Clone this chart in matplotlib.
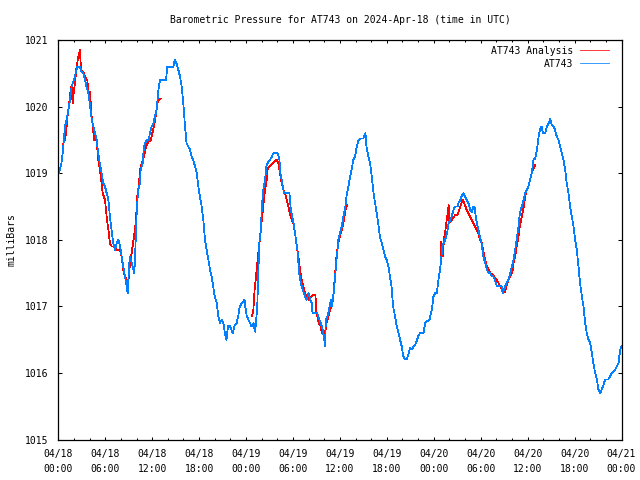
import numpy as np
import matplotlib
matplotlib.use("Agg")
import matplotlib.pyplot as plt

# ---------------- data (hours since 2024-04-18 00:00 UTC, millibars) ----------------
obs_hours = [0.1, 0.4, 0.6, 0.85, 1.07, 1.28, 1.5, 1.7, 2.0, 2.26, 2.43, 2.77, 2.98, 3.2, 3.41, 3.6, 3.84,
             4.13, 4.26, 4.48, 4.7, 4.9, 5.1, 5.3, 5.54, 5.75, 5.97, 6.18, 6.4, 6.6, 6.8, 7.03, 7.25, 7.46,
             7.67, 7.9, 8.1, 8.3, 8.53, 8.74, 8.87, 9.04, 9.17, 9.4, 9.6, 9.72, 9.85, 10.0, 10.2, 10.45,
             10.53, 10.78, 10.95, 11.3, 11.6, 11.7, 11.94, 12.15, 12.36, 12.57, 12.8, 13.0, 13.77, 13.94,
             14.7, 14.9, 15.1, 15.35, 15.56, 15.77, 15.98, 16.2, 16.4, 16.62, 16.84, 17.05, 17.26, 17.48,
             17.7, 17.9, 18.1, 18.33, 18.54, 18.75, 18.97, 19.18, 19.4, 19.6, 19.8, 20.0, 20.25, 20.46,
             20.67, 20.9, 21.1, 21.3, 21.5, 21.7, 21.96, 22.3, 22.5, 22.8, 23.0, 23.2, 23.5, 23.8, 23.9,
             24.1, 24.3, 24.5, 24.7, 24.95, 25.15, 25.28, 25.45, 25.58, 25.7, 25.9, 26.0, 26.2, 26.43,
             26.6, 26.86, 27.07, 27.3, 27.5, 28.05, 28.27, 28.4, 28.7, 28.85, 29.55, 29.72, 30.0, 30.27,
             30.4, 30.57, 30.7, 30.8, 31.0, 31.25, 31.55, 31.76, 31.98, 32.2, 32.4, 32.5, 33.1, 33.38,
             33.55, 33.8, 34.0, 34.1, 34.2, 34.4, 34.7, 34.83, 34.96, 35.2, 35.4, 35.52, 35.7, 35.8,
             36.0, 36.24, 36.45, 36.7, 36.9, 37.1, 37.3, 37.5, 37.7, 37.94, 38.15, 38.4, 38.58, 39.0,
             39.13, 39.26, 39.4, 39.65, 39.86, 40.07, 40.3, 40.5, 40.7, 40.9, 41.1, 41.35, 41.56, 41.78,
             41.99, 42.2, 42.4, 42.6, 42.8, 43.05, 43.27, 43.48, 43.7, 43.9, 44.1, 44.33, 44.55, 44.8,
             44.97, 45.2, 45.4, 45.6, 45.8, 46.0, 46.25, 46.7, 46.9, 47.1, 47.45, 47.75, 47.96, 48.17,
             48.4, 48.6, 48.8, 48.94, 49.1, 49.27, 49.45, 49.7, 49.9, 50.1, 50.3, 50.52, 50.73, 51.03,
             51.16, 51.4, 51.6, 51.8, 52.0, 52.2, 52.43, 52.65, 52.86, 53.07, 53.2, 53.28, 53.5, 53.7,
             53.9, 54.1, 54.35, 54.57, 54.8, 55.0, 55.2, 55.4, 55.6, 55.8, 56.05, 56.5, 56.7, 56.8, 57.0,
             57.12, 57.3, 57.55, 57.76, 57.98, 58.2, 58.4, 58.6, 58.83, 59.0, 59.26, 59.5, 59.68, 59.9,
             60.1, 60.3, 60.53, 60.75, 60.96, 61.2, 61.4, 61.6, 61.82, 61.94, 62.24, 62.45, 62.67, 62.88,
             63.1, 63.3, 63.5, 63.73, 63.94, 64.15, 64.37, 64.58, 64.8, 65.0, 65.22, 65.43, 65.65, 65.86,
             66.07, 66.28, 66.5, 66.7, 66.93, 67.14, 67.35, 67.56, 67.78, 68.0, 68.2, 68.4, 68.63, 68.85,
             69.05, 69.27, 69.48, 69.7, 69.9, 70.3, 70.55, 70.76, 70.98, 71.2, 71.41, 71.62, 71.83, 72.0]
obs_mb = [1019.0, 1019.15, 1019.35, 1019.7, 1019.8, 1019.95, 1020.1, 1020.3, 1020.4, 1020.52, 1020.6,
          1020.6, 1020.52, 1020.5, 1020.4, 1020.3, 1020.2, 1019.95, 1019.82, 1019.7, 1019.6, 1019.5,
          1019.3, 1019.15, 1019.0, 1018.85, 1018.8, 1018.7, 1018.6, 1018.35, 1018.15, 1017.95, 1017.85,
          1017.95, 1018.0, 1017.9, 1017.75, 1017.6, 1017.45, 1017.3, 1017.2, 1017.6, 1017.75, 1017.65,
          1017.55, 1017.5, 1017.85, 1018.35, 1018.75, 1018.85, 1019.05, 1019.15, 1019.4, 1019.5, 1019.5,
          1019.6, 1019.7, 1019.75, 1019.85, 1019.95, 1020.25, 1020.4, 1020.4, 1020.6, 1020.6, 1020.7,
          1020.65, 1020.55, 1020.45, 1020.3, 1020.05, 1019.7, 1019.45, 1019.4, 1019.35, 1019.25, 1019.2,
          1019.1, 1019.0, 1018.8, 1018.65, 1018.5, 1018.3, 1018.0, 1017.85, 1017.7, 1017.55, 1017.45,
          1017.3, 1017.15, 1017.05, 1016.85, 1016.75, 1016.8, 1016.75, 1016.6, 1016.5, 1016.7, 1016.7,
          1016.6, 1016.7, 1016.75, 1016.85, 1017.0, 1017.05, 1017.1, 1017.0, 1016.85, 1016.8, 1016.75,
          1016.7, 1016.75, 1016.62, 1016.75, 1017.05, 1017.55, 1017.95, 1018.15, 1018.45, 1018.75,
          1018.9, 1019.1, 1019.18, 1019.2, 1019.25, 1019.3, 1019.3, 1019.2, 1019.0, 1018.8, 1018.7,
          1018.7, 1018.45, 1018.3, 1018.1, 1017.97, 1017.85, 1017.65, 1017.5, 1017.35, 1017.25, 1017.15,
          1017.1, 1017.2, 1017.1, 1017.05, 1016.9, 1016.9, 1016.8, 1016.75, 1016.65, 1016.5, 1016.4,
          1016.8, 1016.85, 1017.0, 1017.1, 1017.0, 1017.2, 1017.45, 1017.65, 1017.85, 1018.0, 1018.1,
          1018.2, 1018.35, 1018.5, 1018.7, 1018.8, 1018.95, 1019.05, 1019.2, 1019.25, 1019.4, 1019.5,
          1019.52, 1019.52, 1019.57, 1019.6, 1019.4, 1019.25, 1019.15, 1018.95, 1018.7, 1018.55, 1018.4,
          1018.25, 1018.05, 1017.95, 1017.85, 1017.75, 1017.7, 1017.6, 1017.45, 1017.3, 1017.0, 1016.85,
          1016.7, 1016.6, 1016.5, 1016.4, 1016.25, 1016.2, 1016.2, 1016.3, 1016.37, 1016.35, 1016.4,
          1016.42, 1016.47, 1016.55, 1016.6, 1016.6, 1016.75, 1016.77, 1016.8, 1016.95, 1017.15, 1017.2,
          1017.2, 1017.4, 1017.55, 1017.7, 1017.9, 1017.95, 1018.0, 1018.1, 1018.25, 1018.3, 1018.35,
          1018.45, 1018.5, 1018.5, 1018.55, 1018.6, 1018.67, 1018.7, 1018.65, 1018.6, 1018.55, 1018.45,
          1018.42, 1018.5, 1018.5, 1018.42, 1018.25, 1018.15, 1018.05, 1017.95, 1017.75, 1017.65,
          1017.55, 1017.5, 1017.5, 1017.45, 1017.45, 1017.4, 1017.31, 1017.31, 1017.3, 1017.2, 1017.25,
          1017.3, 1017.35, 1017.4, 1017.5, 1017.6, 1017.7, 1017.85, 1018.0, 1018.2, 1018.4, 1018.5,
          1018.6, 1018.7, 1018.75, 1018.8, 1018.9, 1019.0, 1019.2, 1019.22, 1019.35, 1019.55, 1019.67,
          1019.7, 1019.6, 1019.6, 1019.7, 1019.75, 1019.81, 1019.72, 1019.7, 1019.65, 1019.55, 1019.5,
          1019.4, 1019.3, 1019.2, 1019.05, 1018.85, 1018.7, 1018.5, 1018.35, 1018.2, 1018.0, 1017.85,
          1017.6, 1017.35, 1017.15, 1017.0, 1016.75, 1016.6, 1016.5, 1016.45, 1016.3, 1016.15, 1016.0,
          1015.9, 1015.75, 1015.7, 1015.75, 1015.82, 1015.9, 1015.9, 1015.95, 1016.0, 1016.02, 1016.05,
          1016.1, 1016.15, 1016.35, 1016.4]

ana1_hours = [0.55, 0.85, 0.98, 1.15, 1.41, 1.58, 1.7, 1.83, 2.0, 2.13, 2.34, 2.56, 2.77, 2.9, 3.2,
              3.54, 3.71, 3.88, 4.05, 4.26, 4.39, 4.56, 4.9, 5.1, 5.33, 5.54, 5.67, 5.97, 6.18, 6.4,
              6.6, 6.82, 7.25, 7.46, 7.9, 8.1, 8.3, 8.53, 8.74, 8.95, 9.08, 9.25, 9.5, 9.68, 9.9, 10.1,
              10.32, 10.44, 10.66, 10.95, 11.2, 11.51, 11.85, 12.02, 12.23, 12.45, 12.57, 12.7, 13.08]
ana1_mb = [1019.42, 1019.5, 1019.6, 1019.82, 1020.07, 1020.25, 1020.32, 1020.05, 1020.25, 1020.35,
           1020.6, 1020.75, 1020.85, 1020.55, 1020.52, 1020.42, 1020.4, 1020.15, 1020.22, 1019.85,
           1019.75, 1019.5, 1019.5, 1019.2, 1019.05, 1018.85, 1018.7, 1018.6, 1018.35, 1018.15,
           1017.95, 1017.9, 1017.9, 1017.85, 1017.85, 1017.75, 1017.55, 1017.45, 1017.4, 1017.35,
           1017.55, 1017.7, 1017.9, 1018.05, 1018.25, 1018.65, 1018.85, 1019.05, 1019.15, 1019.25,
           1019.4, 1019.47, 1019.5, 1019.6, 1019.7, 1019.85, 1019.95, 1020.07, 1020.12]

ana2_hours = [24.77, 24.94, 25.1, 25.28, 25.45, 25.62, 25.8, 26.01, 26.2, 26.43, 26.65, 26.77, 27.9,
              28.14, 28.35, 28.56, 28.77, 28.99, 29.2, 29.41, 29.6, 29.84, 30.05, 30.27, 30.48, 30.69,
              30.9, 31.12, 31.3, 31.55, 31.76, 31.98, 32.2, 32.5, 32.87, 33.0, 33.12, 33.3, 33.55, 33.7,
              33.98, 34.1, 34.3, 34.53, 34.74, 34.96, 35.1, 35.26, 35.43, 35.6, 35.8, 36.0, 36.24, 36.45,
              36.66, 36.8, 36.96]
ana2_mb = [1016.85, 1016.95, 1017.25, 1017.45, 1017.65, 1017.85, 1018.05, 1018.3, 1018.5, 1018.75,
           1018.9, 1019.07, 1019.2, 1019.15, 1019.0, 1018.85, 1018.75, 1018.7, 1018.6, 1018.5, 1018.4,
           1018.3, 1018.25, 1018.1, 1017.9, 1017.75, 1017.55, 1017.4, 1017.3, 1017.2, 1017.15, 1017.1,
           1017.12, 1017.17, 1017.17, 1016.9, 1016.85, 1016.75, 1016.7, 1016.6, 1016.57, 1016.6,
           1016.75, 1016.85, 1016.95, 1017.0, 1017.1, 1017.3, 1017.55, 1017.8, 1017.95, 1018.05,
           1018.15, 1018.25, 1018.4, 1018.5, 1018.52]

ana3_hours = [48.9, 48.93, 49.06, 49.15, 49.3, 49.5, 49.66, 49.8, 49.9, 50.0, 50.3, 50.73, 51.03, 51.4,
              51.7, 52.0, 52.2, 52.43, 52.65, 52.86, 53.07, 53.28, 53.5, 53.71, 53.9, 54.13, 54.35,
              54.57, 54.8, 55.0, 55.2, 55.6, 55.8, 56.05, 56.27, 56.5, 56.7, 56.9, 57.12, 57.25, 57.42,
              57.55, 57.76, 57.98, 58.1, 58.2, 58.4, 58.6, 58.83, 59.0, 59.26, 59.5, 59.68, 59.9, 60.1,
              60.3, 60.53, 60.75, 60.96]
ana3_mb = [1017.97, 1017.75, 1017.85, 1017.75, 1018.0, 1018.15, 1018.3, 1018.4, 1018.52, 1018.25,
           1018.3, 1018.37, 1018.37, 1018.5, 1018.6, 1018.52, 1018.45, 1018.4, 1018.35, 1018.3,
           1018.25, 1018.2, 1018.15, 1018.1, 1018.0, 1017.95, 1017.82, 1017.7, 1017.6, 1017.55,
           1017.5, 1017.47, 1017.42, 1017.4, 1017.35, 1017.3, 1017.25, 1017.21, 1017.22, 1017.3,
           1017.35, 1017.4, 1017.45, 1017.5, 1017.55, 1017.65, 1017.75, 1017.9, 1018.05, 1018.2,
           1018.35, 1018.5, 1018.65, 1018.75, 1018.8, 1018.9, 1019.0, 1019.07, 1019.12]

x_tick_hours = [0, 6, 12, 18, 24, 30, 36, 42, 48, 54, 60, 66, 72]
x_tick_labels = ["04/18\n00:00", "04/18\n06:00", "04/18\n12:00", "04/18\n18:00",
                 "04/19\n00:00", "04/19\n06:00", "04/19\n12:00", "04/19\n18:00",
                 "04/20\n00:00", "04/20\n06:00", "04/20\n12:00", "04/20\n18:00",
                 "04/21\n00:00"]
y_ticks = [1015, 1016, 1017, 1018, 1019, 1020, 1021]

# ---------------- figure ----------------
plt.rcParams['font.family'] = ['DejaVu Sans Mono']
FS = 7

fig = plt.figure(figsize=(6.4, 4.8), dpi=100)
ax = fig.add_axes([58.3 / 640, 40.5 / 480, 563.2 / 640, 399.5 / 480])

RED = '#ff0000'
BLUE = '#0080ff'
LW = 0.55

ax.plot(ana1_hours, ana1_mb, color=RED, lw=LW, label='AT743 Analysis', antialiased=False)
ax.plot(ana2_hours, ana2_mb, color=RED, lw=LW, antialiased=False)
ax.plot(ana3_hours, ana3_mb, color=RED, lw=LW, antialiased=False)
ax.plot(obs_hours, obs_mb, color=BLUE, lw=LW, label='AT743', antialiased=False)

ax.set_xlim(0, 72)
ax.set_ylim(1015, 1021)
ax.set_xticks(x_tick_hours)
ax.set_xticklabels(x_tick_labels, fontsize=FS, linespacing=1.55)
ax.set_xticks(np.arange(0, 73, 2), minor=True)
ax.set_yticks(y_ticks)
ax.set_yticklabels([str(v) for v in y_ticks], fontsize=FS)

ax.tick_params(axis='x', which='major', direction='in', length=2.3, width=0.75,
               top=True, bottom=True, pad=7)
ax.tick_params(axis='x', which='minor', direction='in', length=1.5, width=0.75,
               top=True, bottom=True)
ax.tick_params(axis='y', which='major', direction='in', length=3.0, width=0.75,
               left=True, right=True, pad=7)
for s in ax.spines.values():
    s.set_linewidth(0.9)
    s.set_color('black')

ax.set_title('Barometric Pressure for AT743 on 2024-Apr-18 (time in UTC)', fontsize=FS, pad=12)
ax.set_ylabel('milliBars', fontsize=FS, labelpad=6)

leg = ax.legend(loc='upper right', bbox_to_anchor=(1 - 7.0 / 563.2, 1.0), fontsize=FS,
                frameon=False, markerfirst=False,
                handlelength=2.9, handletextpad=0.75, borderaxespad=0.2, labelspacing=0.3)

fig.savefig('out.png', dpi=100)
